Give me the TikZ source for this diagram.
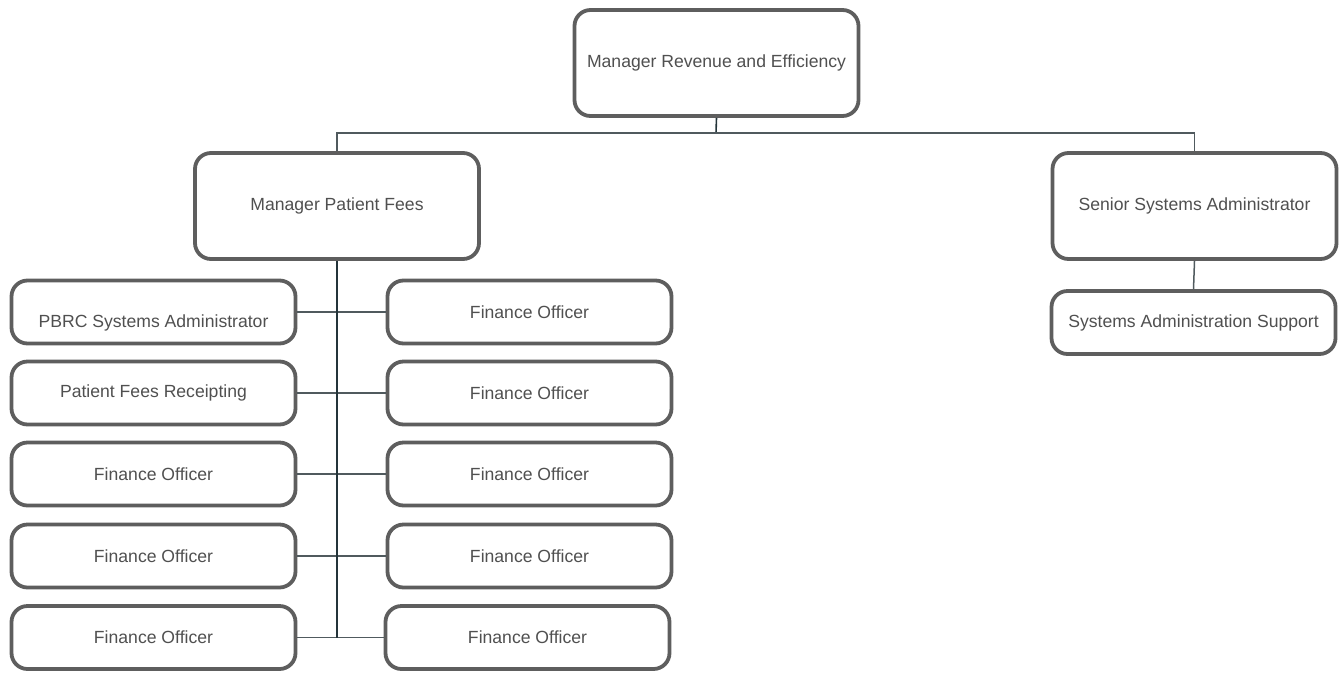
\documentclass[tikz,border=0pt]{standalone}
\usepackage{fontspec}
\setmainfont{Liberation Sans}
\begin{document}
\begin{tikzpicture}[x=1pt,y=-1pt,
  box/.style={draw=boxgray, line width=3.8pt, rounded corners=16pt, fill=white,
    text=textgray, font=\fontsize{17.6}{20}\selectfont, inner sep=0pt, anchor=center},
  bigbox/.style={box, minimum width=284pt, minimum height=106pt},
  smallbox/.style={box, minimum width=284pt, minimum height=63pt},
  link/.style={draw=linegray, line width=1.5pt},
  trunk/.style={draw=darkline, line width=1.6pt}]
\definecolor{boxgray}{HTML}{5E5E5E}
\definecolor{textgray}{HTML}{505050}
\definecolor{linegray}{HTML}{505A5E}
\definecolor{darkline}{HTML}{24343A}
\useasboundingbox (0,0) rectangle (1341,673);

% top level
\node[bigbox] (mre) at (716.5,63) {Manager Revenue and Efficiency};
\node[bigbox] (mpf) at (337,206) {Manager Patient Fees};
\node[bigbox] (ssa) at (1194.5,206) {Senior Systems Administrator};
\node[smallbox] (sas) at (1193.5,322.5) {Systems Administration Support};

% left column
\node[smallbox] (l1) at (153.5,312) {\smash{\raisebox{-15pt}{PBRC Systems Administrator}}};
\node[smallbox] (l2) at (153.5,393) {Patient Fees Receipting};
\node[smallbox] (l3) at (153.5,474) {Finance Officer};
\node[smallbox] (l4) at (153.5,556) {Finance Officer};
\node[smallbox] (l5) at (153.5,637.5) {Finance Officer};

% right column
\node[smallbox] (r1) at (529.5,312) {Finance Officer};
\node[smallbox] (r2) at (529.5,393) {Finance Officer};
\node[smallbox] (r3) at (529.5,474) {Finance Officer};
\node[smallbox] (r4) at (529.5,556) {Finance Officer};
\node[smallbox] (r5) at (527.5,637.5) {Finance Officer};

% connectors
\coordinate (bar) at (716,133);
\coordinate (tend) at (337,637.5);
\draw[trunk] (mre.south) -- (bar);
\draw[link] (mpf.north) |- (bar) -| (ssa.north);
\draw[link] (ssa.south) -- (sas.north);
\foreach \a/\b in {l1/r1,l2/r2,l3/r3,l4/r4,l5/r5}
  \draw[link] (\a.east) -- (\b.west);
\draw[trunk] (mpf.south) -- (tend);
\end{tikzpicture}
\end{document}
